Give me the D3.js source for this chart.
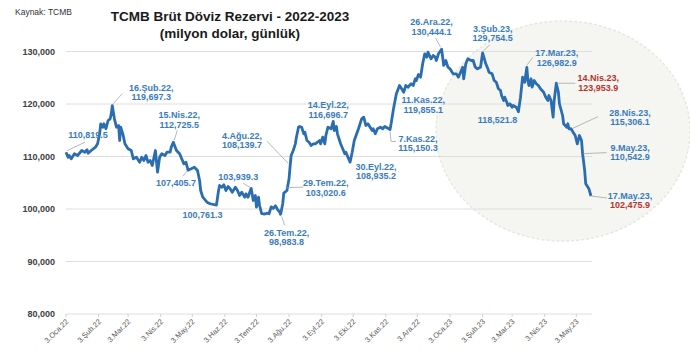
<!DOCTYPE html>
<html>
<head>
<meta charset="utf-8">
<script src="https://cdn.jsdelivr.net/npm/d3@7"></script>
<style>
  body { margin: 0; background: #fff; }
  svg { display: block; font-family: "Liberation Sans", Arial, sans-serif; }
</style>
</head>
<body>
<div id="chart"></div>
<script>
// günlük brüt döviz rezervi (milyon $)
const dates = ["2022-01-03","2022-01-05","2022-01-06","2022-01-08","2022-01-11","2022-01-14","2022-01-18","2022-01-21","2022-01-23","2022-01-24","2022-01-27","2022-01-31","2022-02-02","2022-02-04","2022-02-05","2022-02-07","2022-02-08","2022-02-10","2022-02-12","2022-02-14","2022-02-15","2022-02-16","2022-02-18","2022-02-20","2022-02-22","2022-02-23","2022-02-24","2022-02-26","2022-02-28","2022-03-03","2022-03-06","2022-03-08","2022-03-11","2022-03-14","2022-03-16","2022-03-18","2022-03-20","2022-03-22","2022-03-24","2022-03-26","2022-03-29","2022-03-31","2022-04-02","2022-04-04","2022-04-07","2022-04-09","2022-04-12","2022-04-13","2022-04-15","2022-04-18","2022-04-21","2022-04-23","2022-04-25","2022-04-27","2022-04-29","2022-05-02","2022-05-05","2022-05-08","2022-05-10","2022-05-11","2022-05-13","2022-05-17","2022-05-20","2022-05-26","2022-05-28","2022-05-29","2022-05-31","2022-06-02","2022-06-04","2022-06-06","2022-06-08","2022-06-10","2022-06-13","2022-06-15","2022-06-17","2022-06-19","2022-06-22","2022-06-23","2022-06-25","2022-06-28","2022-06-30","2022-07-02","2022-07-03","2022-07-05","2022-07-06","2022-07-08","2022-07-11","2022-07-13","2022-07-15","2022-07-17","2022-07-19","2022-07-21","2022-07-23","2022-07-25","2022-07-26","2022-07-28","2022-07-29","2022-08-01","2022-08-03","2022-08-04","2022-08-05","2022-08-07","2022-08-09","2022-08-10","2022-08-12","2022-08-13","2022-08-15","2022-08-17","2022-08-18","2022-08-20","2022-08-22","2022-08-24","2022-08-26","2022-08-28","2022-08-30","2022-09-01","2022-09-02","2022-09-04","2022-09-06","2022-09-07","2022-09-09","2022-09-12","2022-09-14","2022-09-15","2022-09-17","2022-09-18","2022-09-21","2022-09-23","2022-09-25","2022-09-26","2022-09-28","2022-09-30","2022-10-02","2022-10-04","2022-10-08","2022-10-11","2022-10-13","2022-10-15","2022-10-17","2022-10-21","2022-10-22","2022-10-24","2022-10-26","2022-10-29","2022-10-31","2022-11-02","2022-11-07","2022-11-08","2022-11-10","2022-11-11","2022-11-13","2022-11-16","2022-11-18","2022-11-20","2022-11-22","2022-11-24","2022-11-27","2022-11-29","2022-12-01","2022-12-02","2022-12-04","2022-12-06","2022-12-08","2022-12-10","2022-12-12","2022-12-13","2022-12-16","2022-12-18","2022-12-20","2022-12-21","2022-12-23","2022-12-26","2022-12-27","2022-12-28","2022-12-30","2023-01-01","2023-01-03","2023-01-05","2023-01-06","2023-01-09","2023-01-11","2023-01-13","2023-01-15","2023-01-16","2023-01-18","2023-01-20","2023-01-23","2023-01-25","2023-01-27","2023-01-29","2023-02-01","2023-02-03","2023-02-06","2023-02-08","2023-02-09","2023-02-12","2023-02-14","2023-02-16","2023-02-18","2023-02-20","2023-02-21","2023-02-23","2023-02-24","2023-02-26","2023-02-27","2023-03-01","2023-03-03","2023-03-04","2023-03-07","2023-03-09","2023-03-11","2023-03-13","2023-03-15","2023-03-17","2023-03-18","2023-03-19","2023-03-21","2023-03-22","2023-03-24","2023-03-26","2023-03-28","2023-03-30","2023-04-02","2023-04-04","2023-04-06","2023-04-07","2023-04-09","2023-04-11","2023-04-12","2023-04-14","2023-04-16","2023-04-17","2023-04-20","2023-04-21","2023-04-24","2023-04-25","2023-04-26","2023-04-28","2023-04-30","2023-05-02","2023-05-04","2023-05-06","2023-05-08","2023-05-09","2023-05-11","2023-05-12","2023-05-15","2023-05-17"];
const reserves = [110819.5,109870,110190,109560,110510,110190,111140,110820,111280,110630,111140,111770,112420,114320,116230,115580,116230,115280,116860,117180,118130,119697.3,117180,115580,115900,113050,115580,114320,112420,111470,111140,109560,109870,108910,109870,109240,110190,108910,109240,108290,111140,107010,109870,110510,110190,110820,110820,111770,112725.5,111140,110510,109560,108610,108910,107405.7,107660,107960,107330,105430,103520,102250,101300,101000,100761.3,103520,104480,104150,104610,103520,104280,103850,103200,104150,103520,102570,103200,102250,102890,102250,103939.3,101620,102570,100340,102250,100670,99100,99050,99200,99100,100400,100100,100600,99950,99450,98983.8,101000,103020.6,103520,105750,108139.7,110190,111140,112420,113680,115580,115720,115580,114320,114630,113050,112720,112100,112420,112420,112720,113050,112420,113680,112420,114000,115580,115280,116696.7,114950,115720,114320,112420,111470,110510,110820,109870,108935.2,110820,113050,115280,117180,117490,115900,116230,114950,115280,114320,115280,115580,115280,115720,115150.3,116230,118760,119855.1,121940,123520,122900,122250,123520,123200,123850,123520,124800,124480,125620,125110,127660,129560,128920,129870,128610,129240,128920,128290,129560,130444.1,128920,127340,128290,127010,126710,126060,125750,125750,125110,126060,127010,124800,127660,128610,128290,128290,127010,126710,127010,129754.5,127660,126710,126060,125750,124480,124150,122900,122570,121620,120670,121300,120340,119720,120040,119390,119720,119390,118521.8,121300,125110,124150,126982.9,124480,123520,124800,123200,124480,123850,123520,122900,122250,121300,120670,121620,120670,117490,120670,123953.9,122250,120040,117810,116230,115580,116230,115280,115306.1,114630,114000,112420,114000,113050,110542.9,107330,104800,103850,102475.9];

const yTicks = [80000, 90000, 100000, 110000, 120000, 130000];
const xTickDates = ["2022-01-03","2022-02-03","2022-03-03","2022-04-03","2022-05-03","2022-06-03","2022-07-03","2022-08-03","2022-09-03","2022-10-03","2022-11-03","2022-12-03","2023-01-03","2023-02-03","2023-03-03","2023-04-03","2023-05-03"];
const xTickLabels = ["3.Oca.22","3.Şub.22","3.Mar.22","3.Nis.22","3.May.22","3.Haz.22","3.Tem.22","3.Ağu.22","3.Eyl.22","3.Eki.22","3.Kas.22","3.Ara.22","3.Oca.23","3.Şub.23","3.Mar.23","3.Nis.23","3.May.23"];

// etiketlenen noktalar
const annDates = ["2022-01-03","2022-02-16","2022-04-15","2022-04-29","2022-05-26","2022-06-28","2022-07-26","2022-07-29","2022-08-04","2022-09-14","2022-09-30","2022-11-07","2022-11-11","2022-12-26","2023-02-03","2023-03-09","2023-03-17","2023-04-14","2023-04-28","2023-05-09","2023-05-17"];
const annNames = ["","16.Şub.22,","15.Nis.22,","","","","26.Tem.22,","29.Tem.22,","4.Ağu.22,","14.Eyl.22,","30.Eyl.22,","7.Kas.22,","11.Kas.22,","26.Ara.22,","3.Şub.23,","","17.Mar.23,","14.Nis.23,","28.Nis.23,","9.May.23,","17.May.23,"];
const annRed = ["","","","","","","","","","","","","","","","","","both","","","value"];

// etiket yerleşimi: metin merkezi (dx, dy) ve kılavuz çizgi
const annLayout = [
  { tx: 22, ty: -14.5, lead: [[1,-1.5],[19,-10]] },
  { tx: 39, ty: -15, lead: [[1,-2],[10,-12]] },
  { tx: 6, ty: -24, lead: [[1,-2],[4,-12]] },
  { tx: -12, ty: 16, lead: [[-1,1],[-5,6]] },
  { tx: -14, ty: 12.5, lead: null },
  { tx: -13, ty: -8, lead: [[-1,-1],[-8,-5]] },
  { tx: 6, ty: 21.5, lead: [[1,2],[4,11]] },
  { tx: 42, ty: -7, lead: [[3,-5.5],[19.5,-6]] },
  { tx: -48, ty: -27.5, lead: [[-2,-3],[-23,-25]] },
  { tx: -5, ty: -13, lead: null },
  { tx: 26, ty: 7.5, lead: null },
  { tx: 28, ty: 12.5, lead: [[0,2],[1,12],[6,12]] },
  { tx: 29, ty: -1.5, lead: null },
  { tx: -10, ty: -24, lead: [[-1,-2],[-6,-11]] },
  { tx: 10, ty: -21, lead: [[1,-2],[7,-8]] },
  { tx: -21, ty: 11, lead: null },
  { tx: 30, ty: -11, lead: [[0,-2],[6,-10]] },
  { tx: 42, ty: -2, lead: [[1,0],[19,0]] },
  { tx: 59, ty: -13, lead: [[1,0],[27,-12]] },
  { tx: 47.5, ty: -3, lead: [[1,0],[24,-1]] },
  { tx: 39, ty: 2.5, lead: [[0,0],[16,2]] }
];

const width = 690, height = 350;
const parse = d3.timeParse("%Y-%m-%d");
const fmt = d3.format(",.1f");
const blue = "#3a7bbd", red = "#b8332f", lineBlue = "#2a6db0";

const data = dates.map((d, i) => ({ date: parse(d), value: reserves[i] }));
const byDate = new Map(data.map((d, i) => [dates[i], d]));

const x = d3.scaleTime()
  .domain([parse("2022-01-03"), parse("2023-05-17")])
  .range([66, 591]);
const y = d3.scaleLinear()
  .domain([80000, 130000])
  .range([314, 51.5]);

const svg = d3.select("#chart").append("svg")
  .attr("width", width)
  .attr("height", height);

// vurgulanan bölge
svg.append("ellipse")
  .attr("cx", 563).attr("cy", 131)
  .attr("rx", 127).attr("ry", 110)
  .attr("fill", "#f5f6f1")
  .attr("stroke", "#e6e8df")
  .attr("stroke-width", 1.5)
  .attr("stroke-dasharray", "3,2");

// yatay kılavuz çizgileri
svg.append("g")
  .selectAll("line")
  .data(yTicks)
  .enter().append("line")
  .attr("x1", 66).attr("x2", 592)
  .attr("y1", d => y(d)).attr("y2", d => y(d))
  .attr("stroke", "#dedede")
  .attr("stroke-width", 1);

svg.append("g")
  .selectAll("text")
  .data(yTicks)
  .enter().append("text")
  .attr("x", 55)
  .attr("y", d => y(d))
  .attr("dy", "0.35em")
  .attr("text-anchor", "end")
  .attr("font-size", "9px")
  .attr("font-weight", "bold")
  .attr("fill", "#404040")
  .text(d3.format(","));

// x ekseni
const xg = svg.append("g");
xg.selectAll("line")
  .data(xTickDates)
  .enter().append("line")
  .attr("x1", d => x(parse(d))).attr("x2", d => x(parse(d)))
  .attr("y1", y(80000)).attr("y2", y(80000) + 3)
  .attr("stroke", "#d0d0d0");
xg.selectAll("text")
  .data(xTickDates)
  .enter().append("text")
  .attr("transform", d => `translate(${x(parse(d)) + 3},${y(80000) + 8}) rotate(-45)`)
  .attr("text-anchor", "end")
  .attr("font-size", "7.5px")
  .attr("fill", "#595959")
  .text((d, i) => xTickLabels[i]);

// seri
const line = d3.line()
  .x(d => x(d.date))
  .y(d => y(d.value));

svg.append("path")
  .datum(data)
  .attr("d", line)
  .attr("fill", "none")
  .attr("stroke", lineBlue)
  .attr("stroke-width", 2.8)
  .attr("stroke-linejoin", "round");

// etiketler
const ag = svg.append("g")
  .attr("font-size", "9px")
  .attr("font-weight", "bold");

annDates.forEach((ds, i) => {
  const p = byDate.get(ds);
  const px = x(p.date), py = y(p.value);
  const lay = annLayout[i];
  if (lay.lead) {
    ag.append("polyline")
      .attr("points", lay.lead.map(o => [px + o[0], py + o[1]].join(",")).join(" "))
      .attr("fill", "none")
      .attr("stroke", "#a6a6a6")
      .attr("stroke-width", 0.8);
  }
  const lines = annNames[i] ? [annNames[i], fmt(p.value)] : [fmt(p.value)];
  lines.forEach((t, j) => {
    let c = blue;
    if (annRed[i] === "both") c = red;
    if (annRed[i] === "value" && j === 1) c = red;
    ag.append("text")
      .attr("x", px + lay.tx)
      .attr("y", py + lay.ty + j * 9.5)
      .attr("text-anchor", "middle")
      .attr("fill", c)
      .text(t);
  });
});

// başlık
svg.append("text")
  .attr("x", 15).attr("y", 15)
  .attr("font-size", "8.5px")
  .attr("fill", "#333")
  .text("Kaynak: TCMB");

svg.append("text")
  .attr("x", 230).attr("y", 21)
  .attr("text-anchor", "middle")
  .attr("font-size", "13.5px")
  .attr("font-weight", "bold")
  .attr("fill", "#1a1a1a")
  .text("TCMB Brüt Döviz Rezervi - 2022-2023");

svg.append("text")
  .attr("x", 230).attr("y", 38)
  .attr("text-anchor", "middle")
  .attr("font-size", "13.5px")
  .attr("font-weight", "bold")
  .attr("fill", "#1a1a1a")
  .text("(milyon dolar, günlük)");
</script>
</body>
</html>
